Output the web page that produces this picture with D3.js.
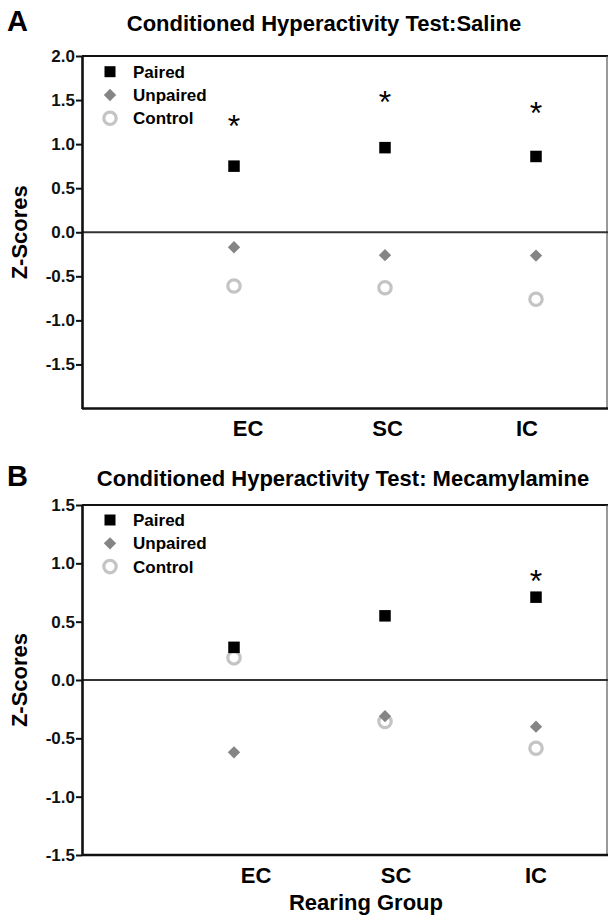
<!DOCTYPE html>
<html>
<head>
<meta charset="utf-8">
<script src="https://cdn.jsdelivr.net/npm/d3@7"></script>
<style>
  body { margin: 0; background: #fff; }
  text { font-family: "Liberation Sans", Arial, sans-serif; font-weight: bold; }
</style>
</head>
<body>
<div id="chart"></div>
<script>
// rearing groups and series
var groups = ["EC", "SC", "IC"];
var seriesNames = ["Paired", "Unpaired", "Control"];

// panel A: saline
var salinePaired   = [0.75, 0.96, 0.86];
var salineUnpaired = [-0.17, -0.26, -0.265];
var salineControl  = [-0.61, -0.63, -0.76];
var salineStars    = [1.27, 1.545, 1.42];
var salineTicks    = [-1.5, -1.0, -0.5, 0.0, 0.5, 1.0, 1.5, 2.0];

// panel B: mecamylamine
var mecPaired   = [0.28, 0.55, 0.71];
var mecUnpaired = [-0.62, -0.31, -0.40];
var mecControl  = [0.19, -0.355, -0.585];
var mecStars    = [null, null, 0.90];
var mecTicks    = [-1.5, -1.0, -0.5, 0.0, 0.5, 1.0, 1.5];

var width = 609, height = 920;

var svg = d3.select("#chart").append("svg")
    .attr("width", width)
    .attr("height", height);

/**
 * Draws one panel of the figure
 */
function drawPanel(cfg) {
    var g = svg.append("g");

    var x = d3.scalePoint().domain(groups).range([234, 536]);
    var xLab = d3.scalePoint().domain(groups).range(cfg.labelRange);
    var y = d3.scaleLinear().domain(cfg.domain).range([cfg.bottom, cfg.top]);

    // panel letter and title
    g.append("text")
        .attr("x", 7).attr("y", cfg.titleY)
        .style("font-size", "29px")
        .text(cfg.letter);
    g.append("text")
        .attr("x", cfg.titleX).attr("y", cfg.titleY)
        .attr("text-anchor", "middle")
        .style("font-size", "22px")
        .text(cfg.title);

    // frame
    g.append("line")
        .attr("x1", 82).attr("x2", 608).attr("y1", cfg.top).attr("y2", cfg.top)
        .attr("stroke", "#111").attr("stroke-width", 2.2);
    g.append("line")
        .attr("x1", 607).attr("x2", 607).attr("y1", cfg.top).attr("y2", cfg.bottom)
        .attr("stroke", "#555").attr("stroke-width", 1.2);
    g.append("line")
        .attr("x1", 82).attr("x2", 608).attr("y1", cfg.bottom).attr("y2", cfg.bottom)
        .attr("stroke", "#111").attr("stroke-width", 2.6);
    g.append("line")
        .attr("x1", 82).attr("x2", 608).attr("y1", y(0)).attr("y2", y(0))
        .attr("stroke", "#333").attr("stroke-width", 2);

    // y axis
    var yAxis = d3.axisLeft(y)
        .tickValues(cfg.ticks)
        .tickFormat(function(d) { return d.toFixed(1); })
        .tickSize(6)
        .tickPadding(1)
        .tickSizeOuter(0);
    var ya = g.append("g")
        .attr("transform", "translate(82,0)")
        .call(yAxis);
    ya.select(".domain").attr("stroke", "#111").attr("stroke-width", 2.6);
    ya.selectAll(".tick line").attr("stroke", "#111").attr("stroke-width", 2);
    ya.selectAll(".tick text")
        .attr("fill", "#111")
        .style("font-size", "17px")
        .style("font-family", "'Liberation Sans', Arial, sans-serif");

    // y title
    g.append("text")
        .attr("transform", "translate(27," + ((cfg.top + cfg.bottom) / 2) + ") rotate(-90)")
        .attr("text-anchor", "middle")
        .style("font-size", "22px")
        .text("Z-Scores");

    // category labels
    g.selectAll(".cat")
        .data(groups)
        .enter().append("text")
        .attr("class", "cat")
        .attr("x", function(d) { return xLab(d); })
        .attr("y", cfg.labelY)
        .attr("text-anchor", "middle")
        .style("font-size", "22px")
        .text(function(d) { return d; });

    // control circles first, then unpaired diamonds, then paired squares
    g.selectAll(".ctrl")
        .data(cfg.control)
        .enter().append("circle")
        .attr("class", "ctrl")
        .attr("cx", function(d, i) { return x(groups[i]); })
        .attr("cy", function(d) { return y(d); })
        .attr("r", 6.2)
        .attr("fill", "none")
        .attr("stroke", "#c4c4c4")
        .attr("stroke-width", 3.2);

    var diamond = d3.symbol().type(d3.symbolSquare).size(76);
    g.selectAll(".unp")
        .data(cfg.unpaired)
        .enter().append("path")
        .attr("class", "unp")
        .attr("d", diamond)
        .attr("transform", function(d, i) {
            return "translate(" + x(groups[i]) + "," + y(d) + ") rotate(45)";
        })
        .attr("fill", "#858585");

    g.selectAll(".pair")
        .data(cfg.paired)
        .enter().append("rect")
        .attr("class", "pair")
        .attr("x", function(d, i) { return x(groups[i]) - 5.75; })
        .attr("y", function(d) { return y(d) - 5.75; })
        .attr("width", 11.5)
        .attr("height", 11.5)
        .attr("fill", "#000");

    // significance stars
    g.selectAll(".star")
        .data(cfg.stars.map(function(v, i) { return {v: v, g: groups[i]}; })
                       .filter(function(d) { return d.v !== null; }))
        .enter().append("text")
        .attr("class", "star")
        .attr("x", function(d) { return x(d.g); })
        .attr("y", function(d) { return y(d.v) + 17; })
        .attr("text-anchor", "middle")
        .style("font-size", "32px")
        .style("font-weight", "normal")
        .text("*");

    // legend
    var leg = g.append("g").attr("transform", "translate(110," + cfg.legendY + ")");
    var step = 23.3;
    leg.append("rect")
        .attr("x", -5.5).attr("y", -5.5).attr("width", 11).attr("height", 11)
        .attr("fill", "#000");
    leg.append("path")
        .attr("d", diamond)
        .attr("transform", "translate(0," + step + ") rotate(45)")
        .attr("fill", "#858585");
    leg.append("circle")
        .attr("cx", 0).attr("cy", step * 2).attr("r", 6.2)
        .attr("fill", "none").attr("stroke", "#c4c4c4").attr("stroke-width", 3.2);
    leg.selectAll(".legtext")
        .data(seriesNames)
        .enter().append("text")
        .attr("class", "legtext")
        .attr("x", 23)
        .attr("y", function(d, i) { return i * step + 6; })
        .style("font-size", "17px")
        .text(function(d) { return d; });
}

drawPanel({
    letter: "A",
    title: "Conditioned Hyperactivity Test:Saline",
    titleX: 324, titleY: 31,
    top: 56, bottom: 408.5,
    domain: [-2, 2],
    ticks: salineTicks,
    labelRange: [248, 527], labelY: 436,
    legendY: 71.7,
    paired: salinePaired, unpaired: salineUnpaired, control: salineControl,
    stars: salineStars
});

drawPanel({
    letter: "B",
    title: "Conditioned Hyperactivity Test: Mecamylamine",
    titleX: 343, titleY: 486,
    top: 505, bottom: 855,
    domain: [-1.5, 1.5],
    ticks: mecTicks,
    labelRange: [256, 536], labelY: 883,
    legendY: 520,
    paired: mecPaired, unpaired: mecUnpaired, control: mecControl,
    stars: mecStars
});

svg.append("text")
    .attr("x", 366).attr("y", 910)
    .attr("text-anchor", "middle")
    .style("font-size", "22px")
    .text("Rearing Group");
</script>
</body>
</html>
